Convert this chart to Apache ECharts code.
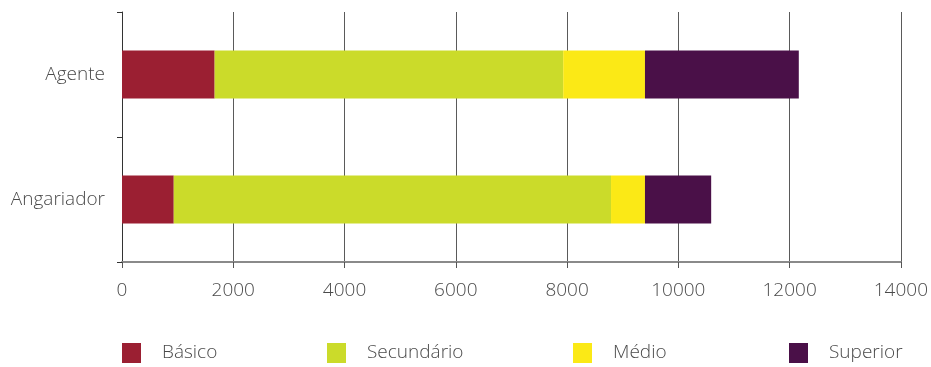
<!DOCTYPE html>
<html>
<head>
<meta charset="utf-8">
<script src="https://cdn.jsdelivr.net/npm/echarts@6/dist/echarts.min.js"></script>
<style>
  html, body { margin: 0; padding: 0; background: #fff; }
  #chart { width: 931px; height: 367px; }
</style>
</head>
<body>
<div id="chart"></div>
<script>
// Categories (top to bottom) and stacked values per education level
const categories = ['Agente', 'Angariador'];
const basico     = [1665, 930];
const secundario = [6265, 7860];
const medio      = [1470, 610];
const superior   = [2765, 1190];
const xTicks = { min: 0, max: 14000, interval: 2000 };

const seriesNames  = ['Básico', 'Secundário', 'Médio', 'Superior'];
const seriesValues = [basico, secundario, medio, superior];
const seriesColors = ['#9b1f32', '#cbdb2a', '#fbe916', '#4a1048'];

const FONT = '"Open Sans", "Noto Sans", sans-serif';
const TEXT_COLOR = '#4a4a4a';
const FONT_SIZE = 19;

const chart = echarts.init(document.getElementById('chart'), null, { renderer: 'canvas' });

// one legend per item so each sits at its own horizontal position
const legendLefts = [122, 327, 573, 789];
const legends = seriesNames.map((name, i) => ({
  data: [name],
  left: legendLefts[i],
  top: 343,
  padding: 0,
  itemWidth: 19,
  itemHeight: 20,
  itemGap: 0,
  icon: 'rect',
  selectedMode: false,
  textStyle: { fontFamily: FONT, fontSize: FONT_SIZE, fontWeight: 300, color: TEXT_COLOR, padding: [0, 0, 0, 16] }
}));

chart.setOption({
  animation: false,
  backgroundColor: '#ffffff',
  legend: legends,
  grid: { left: 122, right: 29, top: 12, bottom: 105, containLabel: false },
  xAxis: {
    type: 'value',
    min: xTicks.min,
    max: xTicks.max,
    interval: xTicks.interval,
    axisLine: { show: true, lineStyle: { color: '#8a8a8a', width: 2 } },
    axisTick: { show: true, length: 6, lineStyle: { color: '#555', width: 1 } },
    axisLabel: {
      fontFamily: FONT, fontSize: FONT_SIZE, fontWeight: 300, color: TEXT_COLOR, margin: 19,
      formatter: (v) => String(v)
    },
    splitLine: { show: true, lineStyle: { color: '#5a5a5a', width: 1 } }
  },
  yAxis: {
    type: 'category',
    data: categories,
    inverse: true,
    axisLine: { show: true, lineStyle: { color: '#333', width: 1 } },
    axisTick: { show: true, length: 5, lineStyle: { color: '#333' } },
    axisLabel: { fontFamily: FONT, fontSize: FONT_SIZE, fontWeight: 300, color: TEXT_COLOR, margin: 17 },
    splitLine: { show: false }
  },
  series: seriesNames.map((name, i) => ({
    name: name,
    type: 'bar',
    stack: 'total',
    barWidth: 48,
    data: seriesValues[i],
    itemStyle: { color: seriesColors[i] },
    emphasis: { disabled: true }
  }))
});
</script>
</body>
</html>
